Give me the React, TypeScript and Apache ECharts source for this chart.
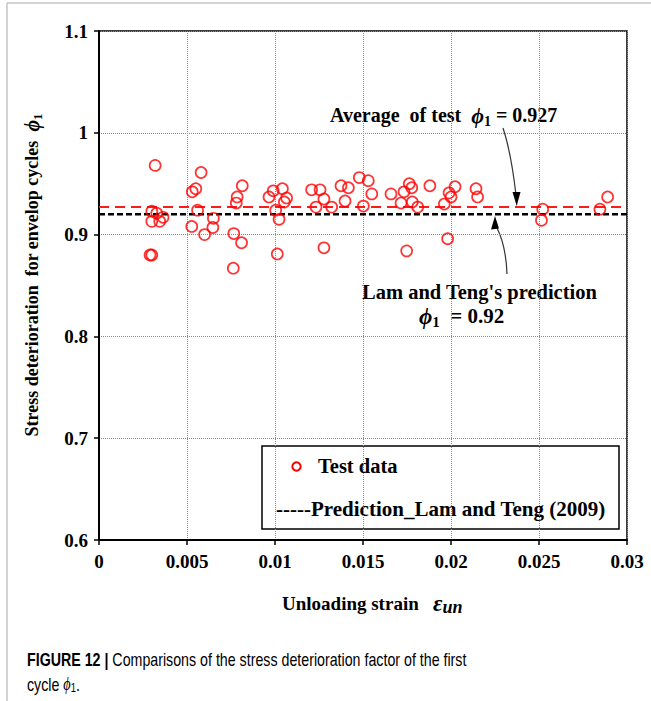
import React, { useEffect, useRef } from "react";
import * as echarts from "echarts";

const SERIF = '"Liberation Serif", "Times New Roman", serif';
const SANS = '"Liberation Sans", Arial, sans-serif';

const X_MIN = 0;
const X_MAX = 0.03;
const X_INTERVAL = 0.005;
const Y_MIN = 0.6;
const Y_MAX = 1.1;
const Y_INTERVAL = 0.1;

const xTickLabels = ["0", "0.005", "0.01", "0.015", "0.02", "0.025", "0.03"];
const yTickLabels = ["0.6", "0.7", "0.8", "0.9", "1", "1.1"];

// Unloading strain of each test point
const testStrain = [
  0.00319, 0.003, 0.00328, 0.003, 0.00345, 0.00364, 0.0029, 0.003,
  0.0053, 0.0055, 0.0058, 0.0056, 0.00527, 0.006, 0.0065, 0.00647,
  0.00766, 0.0081, 0.00763, 0.0078, 0.00785, 0.00814,
  0.00966, 0.0099, 0.01042, 0.01066, 0.01053, 0.01004, 0.01023, 0.01013,
  0.01208, 0.01256, 0.01278, 0.01233, 0.01322, 0.01278,
  0.01375, 0.01417, 0.01398, 0.01479, 0.0153, 0.0155, 0.01502,
  0.01659, 0.01716, 0.01733, 0.01763, 0.01777, 0.0178, 0.01811, 0.0188,
  0.01962, 0.01989, 0.02023, 0.02, 0.01981, 0.01748, 0.02142, 0.02151,
  0.02521, 0.02514, 0.02846, 0.0289,
];
// Stress deterioration factor phi1 of each test point
const testPhi = [
  0.968, 0.923, 0.921, 0.913, 0.913, 0.917, 0.88, 0.88,
  0.942, 0.945, 0.961, 0.924, 0.908, 0.9, 0.916, 0.907,
  0.901, 0.892, 0.867, 0.931, 0.937, 0.948,
  0.937, 0.943, 0.945, 0.936, 0.932, 0.924, 0.915, 0.881,
  0.944, 0.944, 0.935, 0.927, 0.927, 0.887,
  0.948, 0.946, 0.933, 0.956, 0.953, 0.94, 0.928,
  0.94, 0.931, 0.942, 0.95, 0.946, 0.932, 0.927, 0.948,
  0.93, 0.941, 0.947, 0.937, 0.896, 0.884, 0.945, 0.937,
  0.925, 0.914, 0.925, 0.937,
];

const lineStrain = [0, 0.03];
const averagePhi = [0.927, 0.927];
const predictionPhi = [0.92, 0.92];

function rich(size: number) {
  return {
    t: { fontFamily: SERIF, fontWeight: "bold", fontSize: size, color: "#000", lineHeight: size + 6, verticalAlign: "middle" },
    p: { fontFamily: SERIF, fontWeight: "bold", fontStyle: "italic", fontSize: size + 2, color: "#000", lineHeight: size + 6, verticalAlign: "middle" },
    s: { fontFamily: SERIF, fontWeight: "bold", fontSize: Math.round(size * 0.7), color: "#000", lineHeight: Math.round(size * 0.7), verticalAlign: "bottom" },
  };
}

export default function App() {
  const ref = useRef<HTMLDivElement>(null);
  useEffect(() => {
    if (!ref.current) return;
    const chart = echarts.init(ref.current, undefined, { renderer: "svg" });
    const option: any = {
      animation: false,
      backgroundColor: "#fff",
      grid: {
        left: 99,
        right: 24,
        top: 31,
        bottom: 161,
        show: true,
        borderColor: "#000",
        borderWidth: 1.5,
        backgroundColor: "transparent",
      },
      xAxis: {
        type: "value",
        min: X_MIN,
        max: X_MAX,
        interval: X_INTERVAL,
        axisLine: { show: true, onZero: false, lineStyle: { color: "#000", width: 2 } },
        axisTick: { show: true, inside: false, length: 5, lineStyle: { color: "#000", width: 1.5 } },
        axisLabel: {
          formatter: (v: number) => xTickLabels[Math.round((v - X_MIN) / X_INTERVAL)],
          fontFamily: SERIF,
          fontWeight: "bold",
          fontSize: 19,
          color: "#000",
          margin: 12,
        },
        splitLine: { show: true, lineStyle: { type: "dotted", color: "#8a8a8a", width: 1 } },
      },
      yAxis: {
        type: "value",
        min: Y_MIN,
        max: Y_MAX,
        interval: Y_INTERVAL,
        axisLine: { show: true, onZero: false, lineStyle: { color: "#000", width: 2 } },
        axisTick: { show: true, inside: false, length: 5, lineStyle: { color: "#000", width: 1.5 } },
        axisLabel: {
          formatter: (v: number) => yTickLabels[Math.round((v - Y_MIN) / Y_INTERVAL)],
          fontFamily: SERIF,
          fontWeight: "bold",
          fontSize: 19,
          color: "#000",
          margin: 11,
        },
        splitLine: { show: true, lineStyle: { type: "dotted", color: "#8a8a8a", width: 1 } },
      },
      series: [
        {
          name: "Average of test",
          type: "line",
          data: lineStrain.map((x, i) => [x, averagePhi[i]]),
          symbol: "none",
          lineStyle: { color: "#ff1a1a", width: 2, type: [10, 6] },
          z: 2,
        },
        {
          name: "Prediction_Lam and Teng (2009)",
          type: "line",
          data: lineStrain.map((x, i) => [x, predictionPhi[i]]),
          symbol: "none",
          lineStyle: { color: "#000", width: 2.4, type: [6, 3] },
          z: 2,
        },
        {
          name: "Test data",
          type: "scatter",
          data: testStrain.map((x, i) => [x, testPhi[i]]),
          symbol: "circle",
          symbolSize: 11,
          itemStyle: { color: "rgba(0,0,0,0)", borderColor: "#ff0000", borderWidth: 1.7 },
          z: 3,
        },
      ],
      graphic: [
        // card border
        { type: "line", shape: { x1: 7, y1: 3, x2: 651, y2: 3 }, style: { stroke: "#c4c4c4", lineWidth: 1.5 } },
        { type: "line", shape: { x1: 7, y1: 3, x2: 7, y2: 701 }, style: { stroke: "#c4c4c4", lineWidth: 1.5 } },
        // axis titles
        {
          type: "text",
          x: 32,
          y: 275,
          rotation: Math.PI / 2,
          style: {
            text: "{t|Stress deterioration  for envelop cycles  }{p|ϕ}{s|1}",
            rich: rich(18),
            align: "center",
            verticalAlign: "middle",
          },
        },
        {
          type: "text",
          x: 282,
          y: 603,
          style: {
            text: "{t|Unloading strain   }{p|ε}{s|un}",
            rich: {
              ...rich(19),
              p: { fontFamily: SERIF, fontWeight: "bold", fontStyle: "italic", fontSize: 23, color: "#000", lineHeight: 25, verticalAlign: "middle" },
              s: { fontFamily: SERIF, fontWeight: "bold", fontStyle: "italic", fontSize: 18, color: "#000", lineHeight: 15, verticalAlign: "bottom" },
            },
            align: "left",
            verticalAlign: "middle",
          },
        },
        // annotation: average
        {
          type: "text",
          x: 330,
          y: 115,
          style: {
            text: "{t|Average  of test  }{p|ϕ}{s|1}{t| = 0.927}",
            rich: rich(20),
            verticalAlign: "middle",
          },
        },
        {
          type: "bezierCurve",
          shape: { x1: 503, y1: 128, x2: 516, y2: 195, cpx1: 511, cpy1: 152 },
          style: { stroke: "#333", lineWidth: 1.2, fill: null },
        },
        {
          type: "polygon",
          shape: { points: [[516.7, 206], [512.5, 192], [520.5, 192]] },
          style: { fill: "#000" },
        },
        // annotation: prediction
        {
          type: "bezierCurve",
          shape: { x1: 507, y1: 274, x2: 497, y2: 228, cpx1: 506, cpy1: 246 },
          style: { stroke: "#333", lineWidth: 1.2, fill: null },
        },
        {
          type: "polygon",
          shape: { points: [[495, 216], [491, 229.5], [499, 228.5]] },
          style: { fill: "#000" },
        },
        {
          type: "text",
          x: 362,
          y: 292,
          style: { text: "{t|Lam and Teng's prediction}", rich: rich(20.5), verticalAlign: "middle" },
        },
        {
          type: "text",
          x: 419,
          y: 316,
          style: { text: "{p|ϕ}{s|1}{t|  = 0.92}", rich: rich(21), verticalAlign: "middle" },
        },
        // legend
        {
          type: "rect",
          shape: { x: 262, y: 446, width: 357, height: 83 },
          style: { fill: "#fff", stroke: "#000", lineWidth: 1.5 },
        },
        {
          type: "circle",
          shape: { cx: 296.5, cy: 466.5, r: 4.2 },
          style: { fill: null, stroke: "#ff0000", lineWidth: 2 },
        },
        {
          type: "text",
          x: 318,
          y: 466,
          style: { text: "Test data", fontFamily: SERIF, fontWeight: "bold", fontSize: 20.5, fill: "#000", verticalAlign: "middle" },
        },
        {
          type: "text",
          x: 276,
          y: 509,
          style: {
            text: "-----Prediction_Lam and Teng (2009)",
            fontFamily: SERIF,
            fontWeight: "bold",
            fontSize: 21,
            fill: "#000",
            verticalAlign: "middle",
          },
        },
        // caption
        {
          type: "text",
          x: 27,
          y: 659,
          scaleX: 0.79,
          style: {
            text: "{b|FIGURE 12 | }{r|Comparisons of the stress deterioration factor of the first}",
            verticalAlign: "middle",
            rich: {
              b: { fontFamily: SANS, fontWeight: "bold", fontSize: 18, color: "#1a1a1a" },
              r: { fontFamily: SANS, fontSize: 18, color: "#333" },
            },
          },
        },
        {
          type: "text",
          x: 27,
          y: 684,
          scaleX: 0.79,
          style: {
            text: "{r|cycle }{p|ϕ}{s|1}{r|.}",
            verticalAlign: "middle",
            rich: {
              r: { fontFamily: SANS, fontSize: 18, color: "#333", lineHeight: 20, verticalAlign: "middle" },
              p: { fontFamily: SERIF, fontStyle: "italic", fontSize: 18, color: "#333", lineHeight: 20, verticalAlign: "middle" },
              s: { fontFamily: SANS, fontSize: 12, color: "#333", lineHeight: 11, verticalAlign: "bottom" },
            },
          },
        },
      ],
    };
    chart.setOption(option);
    return () => chart.dispose();
  }, []);
  return (
    <div
      ref={ref}
      style={{ position: "fixed", left: 0, top: 0, width: 651, height: 701, background: "#fff" }}
    />
  );
}
